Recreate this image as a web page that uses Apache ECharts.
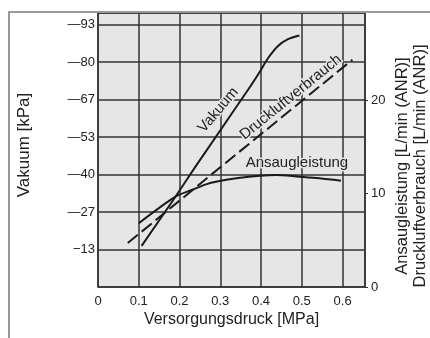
<!DOCTYPE html>
<html><head><meta charset="utf-8">
<script src="https://cdn.jsdelivr.net/npm/echarts@6/dist/echarts.min.js"></script>
<style>html,body{margin:0;padding:0;background:#fff}#c{width:430px;height:338px}</style>
</head><body><div id="c"></div>
<script>
// X: Versorgungsdruck [MPa]
const xTickLabels = ['0', '0.1', '0.2', '0.3', '0.4', '0.5', '0.6'];
// Left axis: Vakuum [kPa] (magnitude), labels shown as negative values
const leftTickLabels = ['', '\u221213', '\u201427', '\u201440', '\u201453', '\u201467', '\u201480', '\u201493'];
// Right axis: L/min (ANR)
const rightTickLabels = ['0', '10', '20'];

// Vakuum curve [MPa, kPa]
const vakuumX = [0.107, 0.190, 0.242, 0.376, 0.397, 0.417, 0.441, 0.466, 0.494];
const vakuumY = [14.6, 32.1, 43.4, 71.8, 76.5, 81.3, 85.6, 88.1, 89.4];
// Ansaugleistung [MPa, L/min]
const ansaugX = [0.100, 0.190, 0.230, 0.263, 0.295, 0.344, 0.397, 0.437, 0.494, 0.543, 0.596];
const ansaugY = [6.81, 9.66, 10.37, 10.95, 11.30, 11.65, 11.90, 11.98, 11.80, 11.63, 11.37];
// Druckluftverbrauch [MPa, L/min]
const druckX = [0.073, 0.300, 0.624];
const druckY = [4.7, 12.8, 24.3];

const zip = (a, b) => a.map((v, i) => [v, b[i]]);
const FONT = '"Liberation Sans", Arial, Helvetica, sans-serif';
const INK = '#222';
const STEP = 40 / 3;

const chart = echarts.init(document.getElementById('c'), null, {renderer: 'canvas'});
chart.setOption({
  animation: false,
  backgroundColor: '#fff',
  textStyle: {fontFamily: FONT, color: INK},
  grid: {left: 98, right: 65, top: 13, bottom: 51, show: true, containLabel: false,
         outerBoundsMode: 'none',
         backgroundColor: '#e6e6e6', borderColor: '#333', borderWidth: 1.5},
  xAxis: {
    type: 'value', min: 0, max: 0.655, interval: 0.1,
    name: 'Versorgungsdruck [MPa]', nameLocation: 'middle', nameGap: 25, nameMoveOverlap: false,
    nameTextStyle: {fontSize: 16, color: INK, fontFamily: FONT},
    axisLine: {show: false}, axisTick: {show: false},
    axisLabel: {fontSize: 13, color: INK, margin: 8, showMaxLabel: false, fontFamily: FONT,
      formatter: v => xTickLabels[Math.round(v * 10)] ?? ''},
    splitLine: {show: true, lineStyle: {color: '#333', width: 1.5}}
  },
  yAxis: [{
    type: 'value', min: 0, max: 97.4, interval: STEP,
    name: 'Vakuum [kPa]', nameLocation: 'middle', nameGap: 65, nameRotate: 90, nameMoveOverlap: false,
    nameTextStyle: {fontSize: 17, color: INK, fontFamily: FONT, padding: [0, 0, 0, 10]},
    axisLine: {show: false}, axisTick: {show: false},
    axisLabel: {fontSize: 13, color: INK, margin: 3, showMaxLabel: false, fontFamily: FONT,
      formatter: v => leftTickLabels[Math.round(v / STEP)] ?? ''},
    splitLine: {show: true, lineStyle: {color: '#333', width: 1.5}}
  }, {
    type: 'value', min: 0, max: 29.3, interval: 10, position: 'right',
    name: 'Ansaugleistung [L/min (ANR)]\nDruckluftverbrauch [L/min (ANR)]',
    nameLocation: 'middle', nameGap: 28, nameRotate: 90, nameMoveOverlap: false,
    nameTextStyle: {fontSize: 16.5, color: INK, lineHeight: 18, fontFamily: FONT, padding: [0, 32, 0, 0]},
    axisLine: {show: false},
    axisTick: {show: true, length: 3, lineStyle: {color: '#333'}},
    axisLabel: {fontSize: 13, color: INK, margin: 6, showMaxLabel: false, fontFamily: FONT,
      formatter: v => rightTickLabels[Math.round(v / 10)] ?? ''},
    splitLine: {show: false}
  }],
  series: [{
    name: 'Vakuum', type: 'line', yAxisIndex: 0, data: zip(vakuumX, vakuumY),
    smooth: 0.3, showSymbol: false, lineStyle: {color: '#1a1a1a', width: 2}
  }, {
    name: 'Ansaugleistung', type: 'line', yAxisIndex: 1, data: zip(ansaugX, ansaugY),
    smooth: 0.3, showSymbol: false, lineStyle: {color: '#1a1a1a', width: 2}
  }, {
    name: 'Druckluftverbrauch', type: 'line', yAxisIndex: 1, data: zip(druckX, druckY),
    showSymbol: false, lineStyle: {color: '#1a1a1a', width: 2, type: [13, 5]}
  }]
});

// In-chart labels anchored to data coordinates
const annotations = [
  {text: 'Vakuum', x: 0.295, y: 62.9, axis: 0, rot: 50},
  {text: 'Druckluftverbrauch', x: 0.473, y: 20.3, axis: 1, rot: 39},
  {text: 'Ansaugleistung', x: 0.488, y: 13.3, axis: 1, rot: 0}
];
const g = annotations.map(a => {
  const p = chart.convertToPixel({xAxisIndex: 0, yAxisIndex: a.axis}, [a.x, a.y]);
  return {type: 'text', x: p[0], y: p[1], rotation: a.rot * Math.PI / 180, z: 50,
    style: {text: a.text, font: '15px ' + FONT, fill: INK, align: 'center', verticalAlign: 'middle',
            stroke: '#e6e6e6', lineWidth: 3}};
});
g.push({type: 'polyline', z: 0, silent: true,
  shape: {points: [[9, 338], [9, 12], [430, 12]]},
  style: {stroke: '#999', lineWidth: 2, fill: null}});
chart.setOption({graphic: g});
</script></body></html>
